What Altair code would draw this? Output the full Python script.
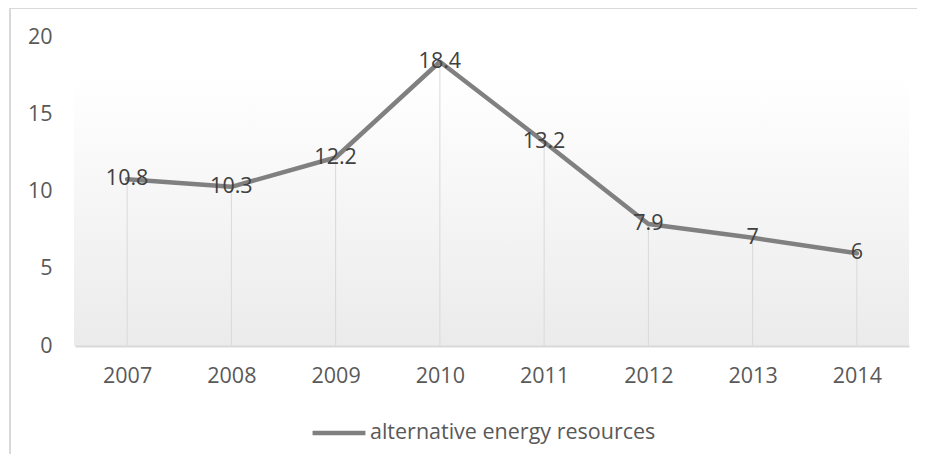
import altair as alt
import pandas as pd

years = ["2007", "2008", "2009", "2010", "2011", "2012", "2013", "2014"]
values = [10.8, 10.3, 12.2, 18.4, 13.2, 7.9, 7, 6]
series_name = "alternative energy resources"
y_ticks = [0, 5, 10, 15, 20]

df = pd.DataFrame({"year": years, "value": values, "series": [series_name] * len(years)})

W, H = 834, 309
FONT = "Open Sans"
FS = 21.5
TXT = "#595959"

x_enc = alt.X("year:N", sort=years, title=None,
              scale=alt.Scale(type="point", padding=0.5),
              axis=alt.Axis(labelFontSize=FS, labelColor=TXT, labelFont=FONT, labelAngle=0,
                            ticks=False, domainColor="#d9d9d9", domainWidth=2,
                            labelPadding=19, grid=False, zindex=1))
y_enc = alt.Y("value:Q", title=None,
              scale=alt.Scale(domain=[0, 20], nice=False),
              axis=alt.Axis(values=y_ticks, labelFontSize=FS, labelColor=TXT, labelFont=FONT,
                            ticks=False, domain=False, grid=False, labelPadding=23))

base = alt.Chart(df)

grad = base.mark_rect(
    fill=alt.Gradient(gradient="linear",
                      stops=[alt.GradientStop(color="#ffffff", offset=0),
                             alt.GradientStop(color="#ebebeb", offset=1)],
                      x1=0, x2=0, y1=0, y2=1),
    stroke=None
).encode(x=alt.value(-1), x2=alt.value(W), y=alt.value(40), y2=alt.value(H))

border_top = base.mark_rule(color="#d9d9d9", strokeWidth=1.5).encode(
    x=alt.value(-65), x2=alt.value(W + 60), y=alt.value(-29))
border_left = base.mark_rule(color="#d9d9d9", strokeWidth=1.5).encode(
    x=alt.value(-65), y=alt.value(-29), y2=alt.value(H + 160))

drops = base.mark_rule(color="#d9d9d9", strokeWidth=1).encode(
    x=x_enc, y=y_enc, y2=alt.datum(0))

line = base.mark_line(strokeWidth=4.5, strokeCap="round", strokeJoin="round").encode(
    x=x_enc, y=y_enc,
    color=alt.Color("series:N", scale=alt.Scale(range=["#808080"]),
                    legend=alt.Legend(title=None, orient="none", legendX=235, legendY=367,
                                      symbolType="stroke", symbolStrokeWidth=4.5,
                                      symbolSize=2800, labelFontSize=FS, labelColor=TXT,
                                      labelFont=FONT, labelOffset=2, padding=0,
                                      labelLimit=0)))

labels = base.mark_text(fontSize=FS, font=FONT, color="#404040", align="center",
                        baseline="middle").encode(
    x=x_enc, y=y_enc, text=alt.Text("value:Q"))

chart = alt.layer(grad, border_top, border_left, drops, line, labels).properties(
    width=W, height=H,
    autosize=alt.AutoSizeParams(type="none"),
    padding={"left": 67, "top": 29, "right": 8, "bottom": 108},
    background="white"
).configure_view(stroke=None)

chart.save("out.html", embed_options={"renderer": "svg", "actions": False})
